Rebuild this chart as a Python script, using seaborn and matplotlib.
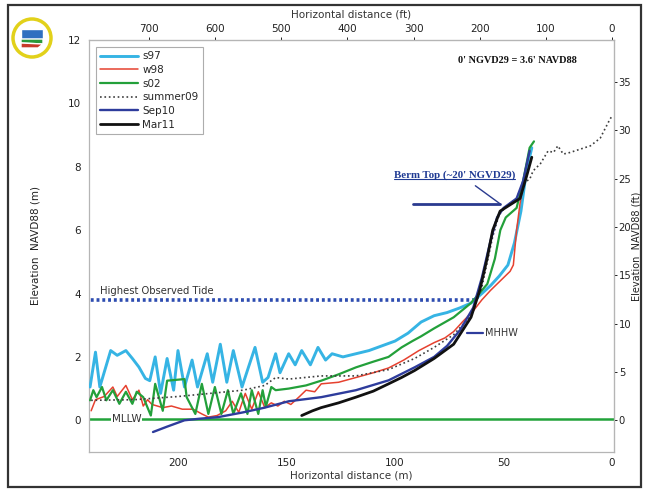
import numpy as np
import matplotlib
matplotlib.use("Agg")
import matplotlib.pyplot as plt
import seaborn as sns
from matplotlib.patches import Circle, Polygon, Rectangle
from matplotlib.lines import Line2D

# beach profile data, distance from back of beach (m) vs elevation NAVD88 (m)
s97_dist = [240.5, 238, 236, 231, 228, 224, 221, 218, 215, 213, 210.5, 208, 205, 202, 200, 197, 193.5,
            191, 186.5, 184, 180.5, 177.5, 174.5, 170.5, 167.5, 164.5, 161, 158.5, 155, 153, 149, 146,
            143, 139, 135.5, 132, 129, 124, 118, 112, 106, 100, 94, 88, 82, 76, 70, 65, 60, 56, 52, 48,
            45, 42, 40, 38, 37]
s97_elev = [1.05, 2.15, 1.05, 2.2, 2.05, 2.2, 1.95, 1.68, 1.32, 1.25, 2.0, 0.85, 1.95, 0.95, 2.2, 1.05, 1.9,
            1.05, 2.1, 1.2, 2.4, 1.2, 2.2, 1.05, 1.68, 2.3, 1.2, 1.35, 2.1, 1.5, 2.1, 1.75,
            2.2, 1.75, 2.3, 1.9, 2.1, 2.0, 2.1, 2.2, 2.35, 2.5, 2.75, 3.1, 3.3, 3.4, 3.55, 3.7, 4.0, 4.25, 4.55, 4.9,
            5.6, 6.6, 7.6, 8.3, 8.6]

w98_dist = [240, 238, 234, 230, 228, 224, 221, 218, 216, 214, 212, 207, 203, 198, 193, 189, 186, 182, 178,
            175, 172, 169, 166, 163, 160, 157, 154, 151, 148, 144, 141, 137, 134, 126, 118, 110, 103, 96,
            89, 82, 77, 73, 69, 64, 60, 56, 53, 50, 47, 45.5, 44, 42.5, 40, 38]
w98_elev = [0.3, 0.65, 0.75, 1.05, 0.75, 1.1, 0.65, 0.95, 0.45, 0.65, 0.5, 0.4, 0.45, 0.35, 0.35, 0.2, 0.1, 0.15, 0.3,
            0.6, 0.25, 0.85, 0.35, 0.9, 0.4, 0.55, 0.45, 0.6, 0.5, 0.75, 0.95, 0.9, 1.15, 1.2, 1.35, 1.5, 1.65, 1.9,
            2.2, 2.45, 2.6, 2.8, 3.1, 3.45, 3.8, 4.1, 4.3, 4.5, 4.7, 4.9, 6.0, 6.8, 7.9, 8.5]

s02_dist = [240.5, 239, 237.5, 235, 233, 230, 227, 224, 221, 219, 216, 212.5, 210.5, 207, 205, 197, 196, 192,
            189, 186, 183, 180, 177, 174.5, 171, 168, 166, 163, 161, 159.5, 157, 155, 149, 141, 134, 126,
            118, 110, 103, 97, 92, 88, 82, 73, 65, 57.5, 54, 51.5, 49, 44, 41, 38, 36]
s02_elev = [0.63, 0.95, 0.73, 1.05, 0.63, 0.95, 0.52, 0.9, 0.52, 0.9, 0.73, 0.15, 1.15, 0.3, 1.25, 1.3, 0.73, 0.2,
            1.15, 0.2, 1.05, 0.2, 0.95, 0.2, 0.85, 0.2, 0.95, 0.2, 0.95, 0.43, 1.05, 0.95, 1.0, 1.1, 1.25, 1.45,
            1.67, 1.85, 2.0, 2.3, 2.5, 2.65, 2.9, 3.25, 3.7, 4.3, 5.1, 6.0, 6.4, 6.7, 7.55, 8.6, 8.8]

summer09_dist = [240, 220, 200, 185, 170, 160, 155, 149, 134, 118, 103, 91, 82, 73, 65, 60, 57.5, 55, 52, 48,
                 44, 41, 38, 36.4, 33, 29.5, 27, 25, 22.5, 19.4, 10, 5.5, 1, 0]
summer09_elev = [0.63, 0.65, 0.75, 0.85, 0.95, 1.1, 1.35, 1.3, 1.4, 1.4, 1.6, 1.95, 2.3, 2.7, 3.3, 4.2, 5.0, 5.8, 6.5, 6.8,
                 7.0, 7.5, 7.6, 7.87, 8.1, 8.5, 8.45, 8.66, 8.4, 8.45, 8.66, 8.9, 9.5, 9.6]

sep10_dist = [211.5, 205, 197, 190, 181.5, 170, 160, 149, 134, 118, 103, 91, 82, 76, 70, 64, 60, 56, 53, 50, 44, 41, 38]
sep10_elev = [-0.37, -0.2, 0.0, 0.05, 0.1, 0.25, 0.4, 0.6, 0.73, 0.95, 1.26, 1.67, 2.0, 2.35, 2.85, 3.55, 4.5, 5.67,
              6.4, 6.7, 7.0, 7.55, 8.5]

mar11_dist = [143, 138, 134, 126, 118, 110, 103, 97, 91, 82, 73, 65, 61, 57.6, 55, 51.6, 47, 42.4, 39, 37]
mar11_elev = [0.15, 0.3, 0.4, 0.55, 0.73, 0.92, 1.15, 1.35, 1.57, 1.95, 2.4, 3.25, 4.1, 5.1, 6.0, 6.6, 6.8, 7.0, 7.8, 8.3]

# tidal datums / reference levels (m)
mllw = 0.05
mhhw = 2.74
highest_tide = 3.8
highest_tide_end = 63
berm_top = 6.83

sns.set_style("white")
plt.rcParams['font.family'] = ['DejaVu Sans']

fig = plt.figure(figsize=(6.48, 4.93), dpi=100)
ax = fig.add_axes([0.1373, 0.0832, 0.810, 0.8357])

profiles = [
    ("s97", s97_dist, s97_elev, "#36b4e4", "-", 2.1),
    ("w98", w98_dist, w98_elev, "#e6412f", "-", 1.1),
    ("s02", s02_dist, s02_elev, "#23a03a", "-", 1.6),
    ("summer09", summer09_dist, summer09_elev, "#3d3d3d", ":", 1.2),
    ("Sep10", sep10_dist, sep10_elev, "#2e3c9c", "-", 1.7),
    ("Mar11", mar11_dist, mar11_elev, "#111111", "-", 2.0),
]

# MLLW and highest observed tide underneath the profiles
ax.axhline(mllw, color="#22a33a", lw=1.8, zorder=1)
hot_x = [240.5, highest_tide_end]
sns.lineplot(x=hot_x, y=[highest_tide] * 2, ax=ax, color="#2d4cb0", lw=2.6,
             linestyle=(0, (0.8, 0.8)), zorder=2)

handles = []
for name, d, e, c, ls, lw in profiles:
    sns.lineplot(x=d, y=e, ax=ax, sort=False, estimator=None, color=c, lw=lw,
                 linestyle=ls, zorder=3)
    handles.append(Line2D([0], [0], color=c, lw=lw, linestyle=ls, label=name))

ax.set_xlim(241, -0.8)
ax.set_ylim(-1, 12)
ax.set_xticks([200, 150, 100, 50, 0])
ax.set_yticks([0, 2, 4, 6, 8, 10, 12])

for sp in ax.spines.values():
    sp.set_color("#b5b5b5")
    sp.set_linewidth(0.9)
ax.tick_params(axis="both", labelsize=7.5, colors="#222222", length=2.5, width=0.7, pad=3)
ax.tick_params(axis="x", length=0, pad=4)
ax.set_xlabel("Horizontal distance (m)", fontsize=7.5, color="#333333", labelpad=2)
ax.set_ylabel("Elevation  NAVD88 (m)", fontsize=7.5, color="#222222", labelpad=20)

# secondary axes in feet
ft = 0.3048
secx = ax.secondary_xaxis("top", functions=(lambda m: m / ft, lambda f: f * ft))
secx.set_xticks([700, 600, 500, 400, 300, 200, 100, 0])
secx.tick_params(labelsize=7.5, colors="#222222", length=2, width=0.7, pad=2)
secx.spines["top"].set_color("#b5b5b5")
secx.set_xlabel("Horizontal distance (ft)", fontsize=7.5, color="#333333", labelpad=5)

secy = ax.secondary_yaxis("right", functions=(lambda m: m / ft, lambda f: f * ft))
secy.set_yticks([0, 5, 10, 15, 20, 25, 30, 35])
secy.tick_params(labelsize=7.2, colors="#222222", length=2.5, width=0.7, pad=1)
secy.spines["right"].set_color("#b5b5b5")
fig.text(0.983, 0.5, "Elevation  NAVD88 (ft)", rotation=90, fontsize=7, color="#222222",
         ha="center", va="center")

leg = ax.legend(handles=handles, loc="upper left", fontsize=7.5, handlelength=3.6,
                labelspacing=0.35, borderaxespad=0.7, frameon=True, fancybox=False,
                handletextpad=0.4, borderpad=0.4)
leg.get_frame().set_edgecolor("#999999")
leg.get_frame().set_linewidth(0.8)

# annotations
ax.text(230.5, mllw, "MLLW", fontsize=7.5, color="#333333", va="center", ha="left",
        bbox=dict(facecolor="white", edgecolor="none", pad=0.5), zorder=4)
ax.text(236, highest_tide + 0.27, "Highest Observed Tide", fontsize=7.2, color="#333333",
        va="center", ha="left")

sns.lineplot(x=[67, 59.5], y=[mhhw, mhhw], ax=ax, color="#2e3c9c", lw=1.6, zorder=4)
ax.text(58.5, mhhw, "MHHW", fontsize=7, color="#333333", va="center", ha="left")

sns.lineplot(x=[91.7, 51.6], y=[berm_top, berm_top], ax=ax, color="#2a3a8f", lw=2.0, zorder=4)
sns.lineplot(x=[63, 51.6], y=[7.4, berm_top], ax=ax, color="#2a3a8f", lw=1.0, zorder=4)
berm_txt = ax.text(72.5, 7.72, "Berm Top (~20' NGVD29)", fontsize=7.8, color="#1f3a93",
                   fontweight="bold", family=["Liberation Serif", "DejaVu Serif"],
                   ha="center", va="center")

ax.text(0.93, 0.951, "0' NGVD29 = 3.6' NAVD88", transform=ax.transAxes, fontsize=7.4,
        fontweight="bold", family=["Liberation Serif", "DejaVu Serif"], ha="right", va="center",
        color="#111111")

# underline the berm label
fig.canvas.draw()
bb = berm_txt.get_window_extent()
inv = fig.transFigure.inverted()
(x0, y0), (x1, _) = inv.transform([[bb.x0, bb.y0], [bb.x1, bb.y0]])
fig.add_artist(Line2D([x0, x1], [y0 + 0.002, y0 + 0.002], transform=fig.transFigure,
                      color="#1f3a93", lw=0.8))

# scanned page frame
fig.add_artist(Rectangle((0.0123, 0.012), 0.977, 0.978, transform=fig.transFigure,
                         fill=False, lw=1.6, ec="#333333"))

# agency seal, top left
lax = fig.add_axes([10 / 648, 1 - 60 / 493, 44 / 648, 44 / 493])
lax.set_xlim(-1.1, 1.1)
lax.set_ylim(-1.1, 1.1)
lax.set_aspect("equal")
lax.axis("off")
lax.add_patch(Circle((0, 0), 0.95, fc="white", ec="#e2d11a", lw=2.5))
lax.add_patch(Polygon([[-0.55, 0.45], [0.55, 0.45], [0.55, -0.05], [-0.55, -0.05]], fc="#2f6fc0"))
lax.add_patch(Polygon([[-0.55, -0.05], [0.55, -0.05], [0.55, -0.3], [-0.55, -0.25]], fc="#2a9a3a"))
lax.add_patch(Polygon([[-0.55, -0.25], [0.55, -0.3], [0.3, -0.5], [-0.55, -0.5]], fc="#c83a2a"))

plt.savefig("out.png", dpi=100)
